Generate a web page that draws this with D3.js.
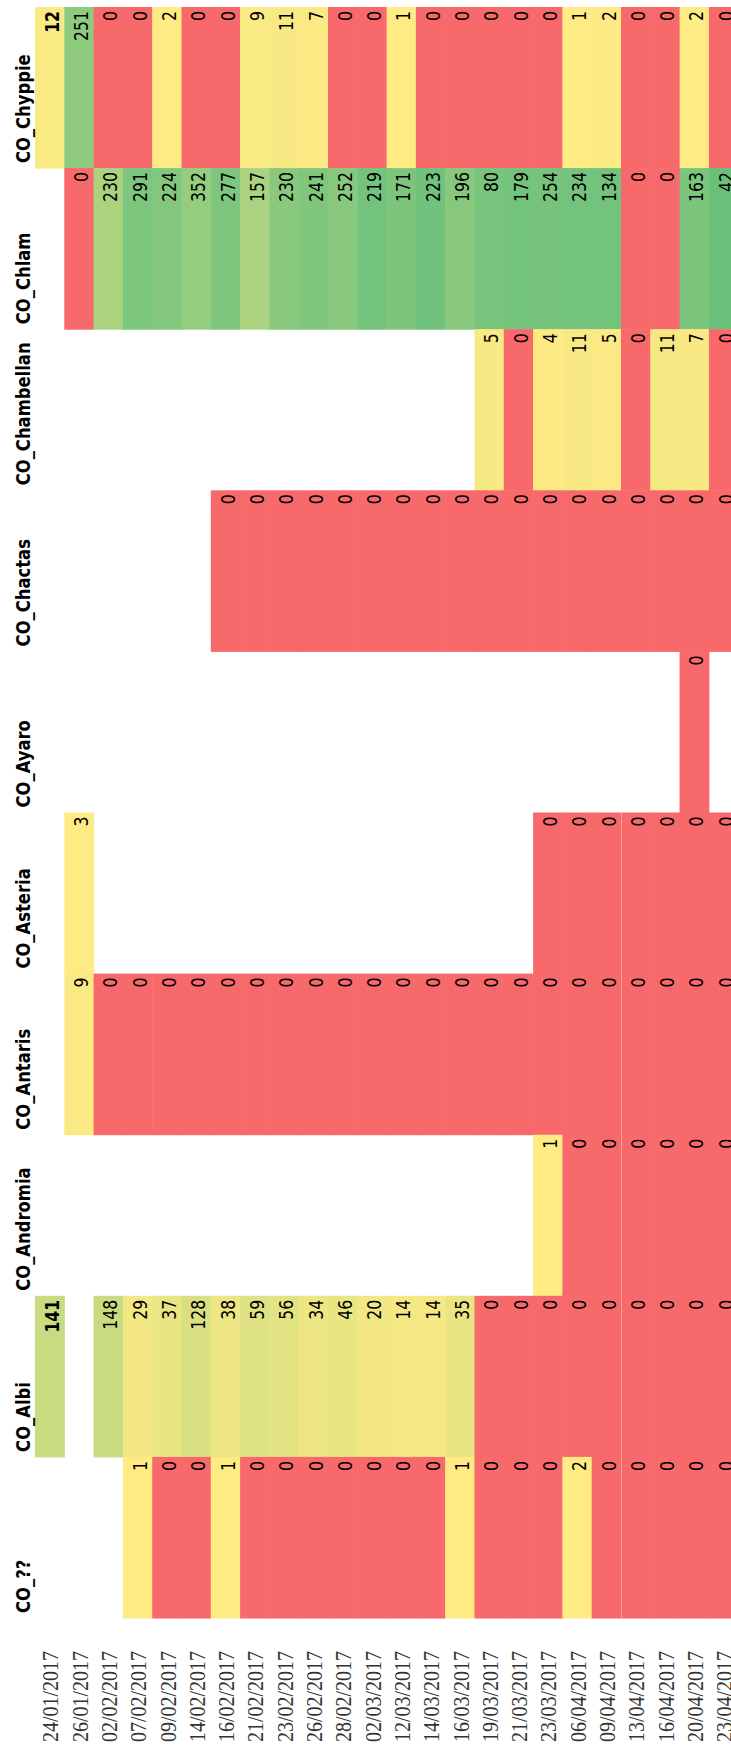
<!DOCTYPE html>
<html><head><meta charset="utf-8">
<script src="https://cdn.jsdelivr.net/npm/d3@7"></script>
<style>body{margin:0;background:#fff}svg{display:block}</style>
</head><body>
<svg id="chart" width="731" height="1747"></svg>
<script>
const dates = ["24/01/2017","26/01/2017","02/02/2017","07/02/2017","09/02/2017","14/02/2017","16/02/2017","21/02/2017","23/02/2017","26/02/2017","28/02/2017","02/03/2017","12/03/2017","14/03/2017","16/03/2017","19/03/2017","21/03/2017","23/03/2017","06/04/2017","09/04/2017","13/04/2017","16/04/2017","20/04/2017","23/04/2017"];
const categories = ["CO_Chyppie","CO_Chlam","CO_Chambellan","CO_Chactas","CO_Ayaro","CO_Asteria","CO_Antaris","CO_Andromia","CO_Albi","CO_??"];
const _ = null;
const chyppie    = [12,251,0,0,2,0,0,9,11,7,0,0,1,0,0,0,0,0,1,2,0,0,2,0];
const chlam      = [_,0,230,291,224,352,277,157,230,241,252,219,171,223,196,80,179,254,234,134,0,0,163,42];
const chambellan = [_,_,_,_,_,_,_,_,_,_,_,_,_,_,_,5,0,4,11,5,0,11,7,0];
const chactas    = [_,_,_,_,_,_,0,0,0,0,0,0,0,0,0,0,0,0,0,0,0,0,0,0];
const ayaro      = [_,_,_,_,_,_,_,_,_,_,_,_,_,_,_,_,_,_,_,_,_,_,0,_];
const asteria    = [_,3,_,_,_,_,_,_,_,_,_,_,_,_,_,_,_,0,0,0,0,0,0,0];
const antaris    = [_,9,0,0,0,0,0,0,0,0,0,0,0,0,0,0,0,0,0,0,0,0,0,0];
const andromia   = [_,_,_,_,_,_,_,_,_,_,_,_,_,_,_,_,_,1,0,0,0,0,0,0];
const albi       = [141,_,148,29,37,128,38,59,56,34,46,20,14,14,35,0,0,0,0,0,0,0,0,0];
const unknown    = [_,_,_,1,0,0,1,0,0,0,0,0,0,0,1,0,0,0,2,0,0,0,0,0];
// per-date maximum of the full table (includes CO columns outside the visible crop)
const dateMax = [403,349,420,350,280,520,335,290,305,295,330,245,205,245,255,93,199,289,260,149,100,180,192,44];

const seriesValues = [chyppie,chlam,chambellan,chactas,ayaro,asteria,antaris,andromia,albi,unknown];

const RED = "#F8696B", YELLOW = "#FFEB84", GREEN = "#63BE7B";

const svg = d3.select("#chart");
const x = d3.scaleBand().domain(dates).range([35, 35 + 24 * 29.3]).padding(0);
const y = d3.scaleBand().domain(categories).range([7, 1618]).padding(0);
const bw = x.bandwidth(), bh = y.bandwidth();

const scales = dates.map((d, i) => d3.scaleLinear().domain([0, dateMax[i]]).range([YELLOW, GREEN]).clamp(true).interpolate(d3.interpolateRgb));
function colour(v, i) { return v === 0 ? RED : scales[i](v); }

const cells = [];
categories.forEach((c, ci) => {
  seriesValues[ci].forEach((v, di) => {
    if (v !== null) cells.push({cat: c, date: dates[di], di, v});
  });
});

svg.append("g").selectAll("rect").data(cells).join("rect")
  .attr("x", d => x(d.date))
  .attr("y", d => y(d.cat))
  .attr("width", bw + 0.5)
  .attr("height", bh + 0.5)
  .attr("fill", d => colour(d.v, d.di));

// faint vertical separator
svg.append("line")
  .attr("x1", x("13/04/2017") + 0.5).attr("x2", x("13/04/2017") + 0.5)
  .attr("y1", y("CO_Asteria")).attr("y2", y("CO_??") + bh)
  .attr("stroke", "rgba(255,255,255,0.35)").attr("stroke-width", 1);

// value labels
svg.append("g").selectAll("text").data(cells).join("text")
  .attr("transform", d => `translate(${x(d.date) + bw - 5.5},${y(d.cat) + 4}) scale(1.2,1) rotate(-90)`)
  .attr("text-anchor", "end")
  .attr("font-family", "DejaVu Sans")
  .attr("font-size", 15.7)
  .attr("font-weight", d => d.di === 0 ? "bold" : "normal")
  .attr("fill", "#000")
  .text(d => d.v);

// category labels
svg.append("g").selectAll("text").data(categories).join("text")
  .attr("transform", d => `translate(30,${y(d) + bh - 5}) scale(1.2,1) rotate(-90)`)
  .attr("text-anchor", "start")
  .attr("font-family", "DejaVu Sans")
  .attr("font-weight", "bold")
  .attr("font-size", 16.4)
  .attr("fill", "#000")
  .text(d => d);

// date labels
svg.append("g").selectAll("text").data(dates).join("text")
  .attr("transform", d => `translate(${x(d) + bw - 6},1742) scale(1.2,1) rotate(-90)`)
  .attr("text-anchor", "start")
  .attr("font-family", "Liberation Serif")
  .attr("font-size", 20)
  .attr("fill", "#333")
  .text(d => d);
</script>
</body></html>
